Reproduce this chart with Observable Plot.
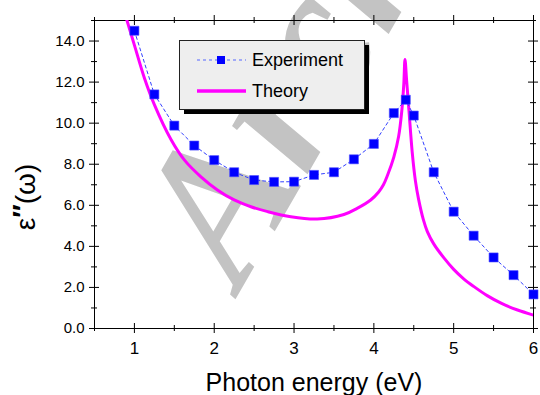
<!DOCTYPE html>
<html><head><meta charset="utf-8">
<script src="https://cdn.jsdelivr.net/npm/d3@7"></script>
<script src="https://cdn.jsdelivr.net/npm/@observablehq/plot@0.6"></script>
<style>
html,body{margin:0;padding:0;background:#fff;}
#chart{width:540px;height:395px;overflow:hidden;}
</style></head><body><div id="chart"></div>
<script>
// ---- data ----
const expEnergy = [1.0,1.25,1.5,1.75,2.0,2.25,2.5,2.75,3.0,3.25,3.5,3.75,4.0,4.25,4.4,4.5,4.75,5.0,5.25,5.5,5.75,6.0];
const expEps    = [14.5,11.4,9.88,8.91,8.2,7.61,7.23,7.14,7.15,7.48,7.61,8.24,8.99,10.49,11.14,10.37,7.61,5.69,4.52,3.46,2.6,1.66];
const theoryEnergy = [0.88,1.0,1.125,1.25,1.46,1.625,1.83,2.04,2.25,2.46,2.67,2.96,3.29,3.625,3.79,3.96,4.06,4.12,4.17,4.25,4.31,4.35,4.375,4.39,4.41,4.44,4.48,4.52,4.56,4.62,4.67,4.75,4.875,5.0,5.125,5.25,5.42,5.6,5.8,6.0];
const theoryEps    = [15.35,13.8,12.2,10.9,9.19,8.21,7.4,6.75,6.26,5.93,5.69,5.44,5.33,5.55,5.85,6.26,6.65,7.0,7.45,8.35,9.35,10.6,11.9,13.1,12.1,10.6,8.6,7.2,6.3,5.3,4.72,4.12,3.45,2.88,2.42,2.05,1.6,1.22,0.9,0.65];
const seriesNames = ["Experiment","Theory"];
const xTicksMajor = [1,2,3,4,5,6];
const xTicksMinor = [0.5,1.5,2.5,3.5,4.5,5.5];
const yTicksMajor = [0,2,4,6,8,10,12,14];
const yTicksMinor = [1,3,5,7,9,11,13,15];
const xDomain = [0.5,6];
const yDomain = [0,15];
const xLabel = "Photon energy (eV)";
const watermark = ["Archive"];

const experiment = expEnergy.map((e,i)=>({e, v: expEps[i]}));
const theory = theoryEnergy.map((e,i)=>({e, v: theoryEps[i]}));

const font = "'Liberation Sans', Arial, Helvetica, sans-serif";
const blue = "#0000ff", magenta = "#ff00ff", dashBlue = "#3340ff";

function ticksX(vals, yv, len){
  return Plot.ruleX(vals, {x: d=>d, y1: ()=>yv, y2: ()=>yv, insetTop: -len, insetBottom: -len, stroke: "black", strokeWidth: 1});
}
function ticksY(vals, xv, len){
  return Plot.ruleY(vals, {y: d=>d, x1: ()=>xv, x2: ()=>xv, insetLeft: -len, insetRight: -len, stroke: "black", strokeWidth: 1});
}

const chart = Plot.plot({
  width: 540, height: 395,
  marginLeft: 94, marginTop: 20, marginRight: 7, marginBottom: 67,
  x: {domain: xDomain},
  y: {domain: yDomain},
  style: {fontFamily: font, background: "white", color: "black"},
  marks: [
    Plot.text(watermark, {frameAnchor: "top-left", dx: 146, dy: 270, rotate: -60, text: d=>d,
      fontSize: 195, fontFamily: "'Liberation Serif', 'DejaVu Serif', serif", fontStyle: "italic", fontWeight: "bold",
      fill: "#c3c3c3", textAnchor: "start", lineAnchor: "bottom"}),
    Plot.frame({stroke: "black", strokeWidth: 1}),
    ticksX(xTicksMajor, yDomain[0], 5), ticksX(xTicksMajor, yDomain[1], 5),
    ticksX(xTicksMinor, yDomain[0], 3), ticksX(xTicksMinor, yDomain[1], 3),
    ticksY(yTicksMajor, xDomain[0], 5), ticksY(yTicksMajor, xDomain[1], 5),
    ticksY(yTicksMinor, xDomain[0], 3), ticksY(yTicksMinor, xDomain[1], 3),
    Plot.axisX({ticks: xTicksMajor, tickSize: 0, tickPadding: 13, fontSize: 17, label: null, tickFormat: d=>String(d)}),
    Plot.axisY({ticks: yTicksMajor, tickSize: 0, tickPadding: 10, fontSize: 15, label: null, tickFormat: d=>d.toFixed(1)}),
    Plot.line(theory, {x: "e", y: "v", stroke: magenta, strokeWidth: 3, curve: "catmull-rom", strokeLinejoin: "round", clip: "frame"}),
    Plot.line(experiment, {x: "e", y: "v", stroke: dashBlue, strokeWidth: 1, strokeDasharray: "3,3"}),
    Plot.dot(experiment, {x: "e", y: "v", symbol: "square", r: 5.1, fill: blue, stroke: "#4a4aff", strokeWidth: 0.6}),
    Plot.text([xLabel], {frameAnchor: "bottom", dy: 62, lineAnchor: "bottom", fontSize: 25, text: d=>d, fill: "black"})
  ]
});
document.getElementById("chart").appendChild(chart);

// y-axis label and legend
const svg = d3.select(chart);
const yl = svg.append("text")
  .attr("transform", "translate(35,197) rotate(-90)")
  .attr("text-anchor", "middle")
  .style("font-family", font).style("font-size", "28px").attr("fill", "black");
yl.append("tspan").text("ε");
yl.append("tspan").attr("font-weight", "bold").attr("dy", "-0.1em").text("″");
yl.append("tspan").attr("dy", "0.1em").text("(ω)");

const lg = svg.append("g");
lg.append("rect").attr("x", 184).attr("y", 45).attr("width", 185).attr("height", 69).attr("fill", "black");
lg.append("rect").attr("x", 179.5).attr("y", 40.5).attr("width", 185).attr("height", 69).attr("fill", "#eeeeee").attr("stroke", "#222").attr("stroke-width", 1);
lg.append("line").attr("x1", 197).attr("x2", 246).attr("y1", 60).attr("y2", 60).attr("stroke", "#5566ff").attr("stroke-width", 1).attr("stroke-dasharray", "3,3");
lg.append("rect").attr("x", 217).attr("y", 56).attr("width", 8).attr("height", 8).attr("fill", blue);
lg.append("line").attr("x1", 197).attr("x2", 246).attr("y1", 91).attr("y2", 91).attr("stroke", magenta).attr("stroke-width", 3.5);
lg.selectAll("text.l").data(seriesNames).join("text")
  .attr("class", "l")
  .attr("x", 252).attr("y", (d,i)=> i===0 ? 66 : 97)
  .attr("text-anchor", "start")
  .style("font-family", font).style("font-size", "18px").attr("fill", "black")
  .text(d=>d);
</script></body></html>
